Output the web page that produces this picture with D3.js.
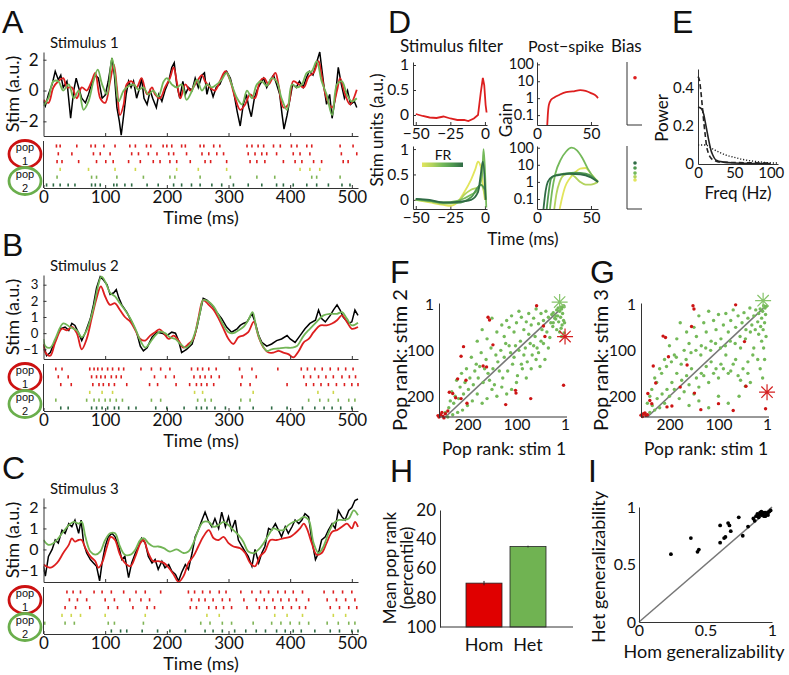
<!DOCTYPE html>
<html><head><meta charset="utf-8">
<script src="https://cdn.jsdelivr.net/npm/d3@7"></script>
<style>body{margin:0;background:#fff}</style>
</head><body>
<svg id="c" width="789" height="675" xmlns="http://www.w3.org/2000/svg"></svg>
<script>
// ---------------- DATA ----------------
const timeTicks = [0,100,200,300,400,500];
// Panel A stimulus traces [time ms, value]
const stim1Black = [[0,-0.7],[3,-1.0],[8,-0.25],[14,0.4],[19,1.25],[24,0.7],[28,1.0],[32,0.2],[38,0.6],[44,-1.8],[49,0],[53,0.8],[57,0.2],[62,-0.5],[68,-0.8],[73,-0.25],[78,0.4],[84,1.0],[89,0.8],[95,-0.5],[100,-0.3],[105,0.6],[111,2.1],[115,1.0],[119,-1.1],[123,-2],[126,-2.9],[130,-1.6],[134,-0.25],[138,0.6],[142,0.2],[146,0.6],[151,-0.5],[156,0.2],[159,0.8],[163,-0.5],[168,-0.9],[173,0],[177,-0.5],[183,-1.1],[187,-0.25],[192,-0.7],[197,0],[203,0.6],[208,1.5],[212,1.8],[216,0.4],[221,-0.5],[226,0.6],[230,-0.25],[235,0.2],[241,0],[246,0.8],[251,0.2],[257,1.0],[261,1.15],[265,-0.25],[269,0.4],[275,-0.4],[280,0.2],[286,0.4],[292,1.0],[297,1.25],[303,0.8],[308,0],[314,-1.35],[319,-2.3],[324,-0.9],[329,-0.25],[333,-1.1],[337,-1.7],[342,-0.5],[346,0],[351,0.4],[357,0.8],[362,0.2],[368,0.7],[373,1.0],[378,0.4],[383,-0.25],[387,-1.6],[390,-2.5],[395,-1.6],[399,-0.7],[404,0.4],[410,0.2],[415,0.6],[421,0.2],[426,0.8],[431,1.25],[437,1.0],[442,1.7],[448,2.5],[451,1.5],[455,0.2],[459,-0.9],[464,-0.25],[468,-1.8],[473,-0.5],[478,1.5],[483,0.4],[488,-0.5],[493,0],[498,-0.9],[504,-0.7],[508,-1.1]];
const stim1Red = [[0,-0.6],[8,-0.8],[16,0.2],[24,0.6],[32,0.8],[38,0.2],[46,0.2],[54,-0.5],[62,0.2],[70,0],[78,0.6],[84,1.15],[92,-0.5],[100,-0.8],[108,0.6],[114,1.7],[119,0.2],[124,-1.6],[130,-0.9],[135,0.4],[143,0.6],[151,0.2],[159,0.8],[168,-0.25],[176,0.2],[181,-0.25],[189,-0.5],[197,0.2],[205,0.8],[211,1.5],[216,0.6],[222,-0.5],[230,0.4],[238,0],[249,0.6],[257,1.0],[262,0.6],[270,0.2],[278,0],[286,0.6],[295,1.25],[303,0.6],[311,-0.5],[319,-1.25],[327,-0.9],[335,-0.25],[343,-0.5],[351,0.6],[358,0.8],[365,0.4],[376,1.15],[381,0.4],[389,-1.1],[397,-0.9],[405,0.6],[414,0.4],[422,0.2],[430,0.9],[438,1.15],[446,1.9],[451,1.0],[459,-0.5],[468,-1.1],[476,0],[481,0.8],[489,-0.25],[497,-0.9],[508,0.05]];
const stim1Green = [[0,-1.0],[8,-0.5],[16,0.6],[24,0.6],[32,0],[41,0.4],[49,-0.5],[57,0],[65,-1.25],[73,-0.7],[81,0.6],[88,1.35],[95,0.4],[103,-0.25],[111,2.1],[116,1.0],[122,-0.7],[130,0],[138,0.3],[146,0.4],[154,0.05],[162,0.2],[170,-0.25],[178,0],[186,-0.4],[195,0.6],[200,0.8],[208,0.4],[216,0.2],[224,0.4],[232,-0.6],[241,0],[249,0.7],[257,0],[265,0.4],[273,0.2],[281,0.4],[289,0.7],[297,1.15],[305,0.4],[314,-0.5],[322,-0.9],[330,0],[338,-0.5],[346,0.4],[354,0.6],[362,0.3],[370,0.8],[378,0.6],[386,-0.5],[395,-1.25],[403,0.4],[411,0.2],[419,0.4],[427,1.15],[435,1.25],[443,1.9],[451,0.6],[459,-0.25],[468,-1.6],[476,0.4],[484,0.6],[492,-0.25],[500,-0.7],[508,-0.5]];
// Panel B
const stim2Black = [[0,-0.7],[5,-1.4],[11,-1.2],[19,-0.46],[27,0.27],[35,0.38],[41,0.17],[46,0.6],[51,0.48],[57,0],[62,-0.46],[68,0.06],[76,0.9],[81,1.75],[86,2.8],[92,3.5],[97,3.3],[103,3.0],[108,2.4],[114,2.5],[118,2.7],[122,2.2],[127,1.75],[135,1.3],[143,0.7],[151,0.06],[157,-0.8],[162,-1.1],[168,-0.9],[176,-0.25],[184,0.06],[192,0],[200,-0.15],[208,0.06],[214,0],[219,-0.46],[224,-1.2],[232,-1.0],[241,-0.67],[249,0.38],[254,1.3],[259,2.15],[265,2.05],[273,1.75],[281,1.3],[289,0.9],[297,0.38],[305,0.06],[314,0.27],[319,0.48],[324,0.6],[330,0.7],[338,1.2],[343,0.7],[349,-0.15],[354,-0.57],[362,-0.8],[370,-0.67],[378,-0.46],[386,-0.36],[395,-0.15],[400,-0.36],[408,-0.57],[416,-0.15],[424,0.27],[432,0.6],[441,0.8],[446,1.43],[451,0.9],[457,0.7],[465,1.1],[470,1.43],[476,1.75],[481,1.43],[486,1.0],[495,0.6],[500,0.7],[505,1.43],[510,1.1]];
const stim2Red = [[0,-0.67],[3,-1.2],[11,-1.4],[19,-0.57],[30,0.27],[38,0.17],[46,0.38],[54,0],[62,-1.0],[70,-0.36],[78,0.9],[86,2.15],[93,2.9],[100,2.27],[108,1.75],[116,1.85],[124,1.43],[132,1.0],[141,0.7],[149,0.17],[157,-0.36],[165,-0.46],[173,-0.15],[181,0.06],[188,0.23],[195,0],[203,-0.36],[211,-0.15],[219,-0.46],[227,-0.9],[235,-0.67],[243,-0.36],[251,0.9],[259,2.05],[268,1.75],[276,1.43],[284,0.9],[292,0.27],[300,-0.36],[308,-0.67],[316,-0.25],[324,-0.15],[332,0.06],[341,0.7],[349,-0.25],[357,-0.9],[365,-1.2],[373,-1.2],[381,-1.1],[389,-1.2],[397,-1.3],[405,-1.5],[414,-1.1],[422,-0.57],[430,-0.36],[438,0.06],[449,0.48],[459,0.48],[468,0.6],[476,0.8],[484,1.1],[492,0.7],[500,0.27],[510,0.38]];
const stim2Green = [[0,-0.36],[3,-0.8],[11,-0.9],[19,-0.36],[32,0.6],[43,0.38],[54,0.17],[62,-0.25],[70,0.17],[81,1.54],[89,3.0],[94,3.5],[100,3.2],[108,2.5],[116,2.27],[124,1.85],[132,1.43],[141,0.9],[149,0.27],[157,-0.46],[165,-0.9],[173,-0.57],[181,-0.15],[189,0.1],[197,0],[205,-0.25],[214,-0.36],[222,-0.67],[230,-0.9],[238,-0.67],[246,0.06],[254,1.3],[259,2.05],[268,1.95],[276,1.64],[284,1.1],[292,0.48],[300,0.06],[308,0],[316,0.17],[324,0.38],[332,0.8],[339,1.3],[346,0.17],[354,-0.67],[362,-1.1],[370,-1.0],[381,-0.95],[392,-0.9],[403,-0.9],[411,-0.8],[422,-0.15],[432,0.27],[443,0.7],[454,1.1],[465,1.2],[476,1.2],[484,1.3],[492,0.9],[500,0.48],[510,0.65]];
// Panel C
const stim3Black = [[0,-0.8],[3,-1.27],[8,-0.33],[14,0],[19,0.45],[24,0.3],[30,0.92],[35,0.77],[41,1.23],[46,1.08],[51,1.4],[57,0.77],[61,1.4],[65,0.3],[70,-0.17],[76,-0.48],[81,-0.64],[86,-0.8],[91,-1.5],[95,-0.64],[100,0.14],[105,0.6],[111,0.77],[116,0.6],[122,0.14],[127,-0.48],[132,-0.33],[138,-1.34],[143,-0.64],[149,-0.17],[154,0.14],[159,0.53],[165,0.3],[170,-0.33],[176,-0.64],[181,-0.48],[186,-0.95],[192,-0.56],[197,-0.87],[203,-0.72],[208,-1.03],[214,-1.19],[219,-1.5],[224,-1.1],[230,-0.72],[235,-0.95],[241,-0.17],[246,0.6],[251,0.92],[257,1.4],[262,1.78],[268,1.31],[273,1.08],[278,1.47],[284,1.0],[289,1.78],[295,1.08],[300,1.55],[305,0.92],[311,1.4],[316,0.45],[322,0.14],[327,-0.1],[332,-0.33],[338,-0.8],[343,0],[349,-0.64],[354,-0.17],[359,0.14],[365,1.0],[370,0.92],[376,1.23],[381,0.92],[386,0.6],[392,1.08],[397,0.77],[403,1.08],[408,1.4],[414,1.23],[419,1.4],[424,1.7],[430,1.55],[435,0.45],[441,-0.48],[446,-0.17],[451,0.45],[457,0.6],[462,0.92],[468,1.23],[473,1.0],[478,1.86],[484,1.55],[489,1.4],[495,1.86],[500,2.0],[505,2.33],[510,2.4]];
const stim3Red = [[0,-0.72],[11,-0.87],[22,-0.64],[32,-0.17],[41,0.22],[46,0.53],[51,0.37],[57,0.45],[62,0.45],[68,0.06],[76,-0.33],[84,-0.56],[89,-0.87],[95,-0.64],[103,0.14],[109,0.6],[116,0.45],[124,-0.25],[132,-0.64],[141,-0.8],[149,-0.33],[157,0.3],[162,0.45],[170,-0.17],[178,-0.56],[186,-0.56],[195,-0.64],[203,-0.87],[211,-1.19],[219,-1.55],[227,-1.27],[235,-0.64],[243,-0.33],[251,0.14],[259,0.6],[268,0.92],[276,0.53],[284,0.45],[292,0.6],[300,0.3],[308,0.14],[319,0.06],[327,-0.17],[335,-0.64],[343,-0.8],[351,-0.33],[359,-0.1],[368,0.45],[378,0.45],[389,0.53],[400,0.6],[408,0.77],[416,1.0],[422,1.23],[427,1.0],[435,0.3],[443,-0.25],[451,-0.17],[459,0.3],[468,0.84],[476,0.92],[484,1.08],[492,1.23],[500,1.0],[505,1.31],[510,1.08]];
const stim3Green = [[0,0.45],[8,0.22],[16,0.3],[24,0.53],[32,0.84],[41,1.16],[49,1.31],[57,1.23],[62,1.31],[68,0.6],[76,-0.1],[84,-0.25],[92,-0.1],[100,0.45],[108,0.77],[116,0.77],[124,0.14],[132,-0.25],[141,-0.25],[149,0],[157,0.45],[163,0.53],[170,0.3],[178,0.14],[186,0.14],[195,0.06],[205,-0.1],[216,0],[227,-0.17],[235,-0.1],[243,0.3],[251,0.92],[259,1.31],[268,1.31],[276,1.08],[284,1.16],[292,1.31],[300,1.16],[308,0.92],[316,0.69],[324,0.37],[332,-0.1],[341,-0.17],[349,0],[357,0.3],[365,0.69],[373,1.0],[381,0.92],[389,0.92],[397,1.16],[405,1.31],[414,1.4],[422,1.55],[430,1.4],[438,0.3],[446,-0.17],[454,0.14],[462,0.77],[470,1.23],[478,1.4],[486,1.4],[495,1.47],[503,1.86],[510,1.63]];
// Spike rasters (ms): pop 1 rows, pop 2 rows (yellow, mid, dark)
const spikesA_pop1 = [
 [21,27,54,77,84,98,116,140,149,167,174,194,200,208,224,230,254,260,276,286,330,338,348,357,373,384,402,411,427,435,481,502],
 [24,46,81,92,108,143,154,170,184,203,211,232,257,268,281,292,332,343,354,362,378,405,416,432,483,508],
 [22,30,57,86,101,113,138,157,178,189,205,216,238,262,271,297,335,346,359,389,408,419,438,451,486,494]];
const spikesA_pop2 = [
 [27,73,116,149,216,251,297,416,432,448],
 [22,78,86,119,162,205,213,254,303,346,375,435,443,481],
 [5,16,27,40,51,78,84,92,114,119,132,143,168,186,211,224,240,254,273,289,308,332,354,378,389,405,427,443,462,484,497]];
const spikesB_pop1 = [
 [20,30,75,82,88,95,104,112,122,130,158,175,190,205,240,250,258,268,280,318,338,380,418,428,440,452,465,478,490,502],
 [24,40,78,86,93,100,110,118,126,180,198,212,244,254,262,272,285,322,345,422,433,446,458,470,484,496,506],
 [28,45,80,90,97,106,115,135,172,185,215,237,248,256,265,276,320,335,395,426,438,450,462,475,488,500,510]];
const spikesB_pop2 = [
 [75,95,112,245,258,340,445,470],
 [20,70,82,90,100,108,118,128,175,190,250,262,272,320,335,430,448,462,478,495,505],
 [28,40,78,86,95,104,115,122,138,150,182,200,228,248,256,265,278,295,318,340,370,395,420,440,455,468,482,500]];
const spikesC_pop1 = [
 [38,48,60,82,95,110,130,150,165,190,235,245,258,270,285,296,320,338,352,365,380,392,405,420,455,470,485,500],
 [42,55,70,100,115,140,158,172,240,252,262,275,290,302,325,345,358,372,385,398,410,430,460,475,490,505],
 [35,52,75,105,120,145,168,180,238,248,268,280,292,305,330,350,362,375,388,402,415,425,465,480,495,508]];
const spikesC_pop2 = [
 [30,45,60,100,165,265,285,375,395,420,470,490],
 [2,35,50,105,115,162,255,270,290,305,340,370,385,400,415,430,460,478,495,505],
 [110,125,135,160,185,205,230,262,275,290,310,328,345,360,378,392,405,418,440,465,480,500,510]];

// Panel D: stimulus filters [time ms, a.u.]
const filterHom = [[-50,0.02],[-45,-0.02],[-40,-0.05],[-35,-0.06],[-30,-0.03],[-25,-0.07],[-20,-0.1],[-15,-0.1],[-12,-0.12],[-8,-0.07],[-5,0.0],[-3,0.45],[-1.5,0.74],[-0.5,0.6],[0.5,0.2],[1.2,0.05]];
const filterHet = [
 [[-50,0],[-40,-0.05],[-30,-0.1],[-25,-0.12],[-20,-0.05],[-15,0.15],[-10,0.4],[-7,0.6],[-5,0.75],[-3,0.65],[-1,0.2],[0,0.0]],
 [[-50,0],[-40,-0.03],[-30,-0.08],[-20,-0.05],[-15,0.1],[-10,0.2],[-5,0.25],[-3,0.3],[-1,0.2],[0,0.1],[1,0]],
 [[-50,0],[-40,-0.02],[-30,-0.05],[-20,-0.02],[-10,0.1],[-5,0.2],[-2,0.5],[-1,1.0],[0,0.6],[1,-0.15]],
 [[-50,0.02],[-40,-0.02],[-30,-0.06],[-20,-0.06],[-10,0.05],[-5,0.25],[-3,0.3],[-1,0.25],[0,0.2]],
 [[-50,0.02],[-40,0],[-30,-0.05],[-20,-0.04],[-10,0.0],[-5,0.15],[-3,0.5],[-1.5,0.75],[0,0.3],[0.5,0]]];
const hetColors = ["#e2e55c","#b3d35e","#74b95a","#4f9850","#2f6b45"];
// Post-spike gain [time ms, gain]
const postHom = [[9.5,0.026],[10,0.1],[11,0.4],[13,0.8],[16,1.1],[20,1.5],[27,2.3],[33,2.5],[40,3.0],[45,2.7],[50,2.0],[55,1.3],[56.5,1.0]];
const postHet = [
 [[21,0.026],[23,0.1],[26,0.5],[30,1.5],[35,3.5],[40,6],[45,6.5],[50,3],[54,1.5],[56.5,1.1]],
 [[16,0.026],[18,0.2],[21,1],[25,2.5],[30,3],[35,2],[40,1],[45,0.7],[50,0.7],[56.5,1]],
 [[12,0.026],[14,0.3],[17,3],[22,20],[27,60],[32,100],[37,70],[42,25],[47,6],[52,2],[56.5,1]],
 [[9,0.026],[11,0.3],[13,1.5],[17,2.5],[25,3],[35,3.5],[45,3],[52,1.8],[56.5,1]],
 [[6,0.026],[8,0.3],[10,1],[14,2],[20,2.5],[30,3],[40,2.8],[50,1.8],[56.5,1]]];
const biasHom = [0.75];
const biasHet = [0.46,0.51,0.57,0.65,0.73];
// Panel E power spectra [Hz, power]
const powerSolid = [[0,0.3],[5,0.29],[8,0.26],[10,0.22],[13,0.16],[15,0.12],[18,0.07],[20,0.05],[25,0.02],[35,0.01],[50,0.005],[100,0.002]];
const powerDashed = [[0,0.46],[2,0.44],[4,0.38],[6,0.3],[8,0.22],[10,0.15],[12,0.09],[14,0.06],[18,0.03],[22,0.02],[30,0.01],[100,0.005]];
const powerDotted = [[0,0.1],[10,0.1],[20,0.08],[30,0.06],[40,0.045],[50,0.035],[60,0.025],[70,0.018],[80,0.013],[90,0.009],[100,0.006],[110,0.005]];
// Panel F / G: population ranks [rank stim 1, rank stim k]
const rankF_het = [[3,5],[5,3],[8,10],[10,6],[12,15],[6,20],[15,8],[18,12],[20,25],[4,35],[7,45],[9,52],[14,38],[22,30],[25,18],[28,22],[30,40],[12,60],[18,55],[26,48],[35,28],[40,15],[45,35],[50,20],[55,42],[60,10],[38,60],[32,72],[48,55],[65,30],[70,45],[75,20],[80,38],[85,55],[90,28],[95,15],[100,40],[105,60],[110,25],[115,50],[120,35],[125,70],[130,45],[140,60],[150,30],[160,75],[170,55],[180,80],[62,70],[72,85],[82,95],[92,80],[102,90],[112,105],[122,85],[132,100],[142,110],[152,95],[162,120],[172,105],[182,130],[192,115],[202,140],[212,150],[222,165],[232,190],[50,80],[58,95],[68,110],[78,125],[88,140],[98,155],[108,130],[118,145],[128,160],[138,125],[148,140],[158,150],[168,170],[178,160],[188,175],[198,185],[208,195],[218,205],[228,215],[238,225],[245,235],[60,120],[70,140],[80,160],[90,130],[100,170],[110,185],[120,195],[130,180],[140,200],[150,185],[160,205],[170,215],[180,195],[190,210],[200,220],[210,230],[220,235],[230,240],[240,245],[205,170],[215,180],[225,200],[235,210],[195,160],[185,145],[175,135],[165,140],[155,165],[145,175],[135,145],[125,115],[115,90],[105,115],[95,100],[85,110],[75,65],[65,90],[55,105],[45,85],[35,95],[42,120],[52,135],[25,40],[20,32],[16,25],[10,28],[2,40],[8,70],[3,62]];
const rankF_hom = [[59,3],[158,28],[155,34],[42,70],[45,47],[208,92],[213,113],[148,88],[168,134],[161,136],[220,162],[203,165],[237,191],[230,194],[213,205],[201,215],[224,203],[102,187],[101,193],[122,218],[71,205],[4,176],[258,245],[255,240],[250,243],[245,238],[252,235],[260,242],[248,247],[240,232]];
const rankG_het = [[2,4],[5,8],[8,3],[10,15],[4,22],[12,30],[15,10],[18,20],[6,40],[9,55],[3,70],[14,48],[20,38],[24,12],[28,25],[32,45],[36,8],[40,30],[44,55],[48,18],[52,40],[56,70],[60,25],[65,50],[70,12],[75,35],[80,60],[85,20],[90,45],[95,75],[100,22],[105,55],[110,35],[115,80],[120,15],[125,60],[130,40],[135,90],[140,25],[145,70],[150,50],[160,85],[165,60],[170,100],[178,40],[185,75],[190,110],[200,90],[210,120],[220,140],[230,160],[240,200],[245,215],[236,185],[226,170],[216,150],[206,135],[196,125],[186,115],[176,130],[166,120],[156,105],[146,100],[136,110],[126,95],[116,100],[106,85],[96,95],[86,90],[76,80],[66,85],[55,95],[45,75],[35,60],[25,55],[18,65],[12,80],[8,95],[30,110],[40,125],[50,140],[60,155],[70,130],[80,150],[90,140],[100,160],[110,150],[120,170],[130,155],[140,180],[150,195],[160,175],[170,190],[180,205],[190,185],[200,200],[210,215],[220,225],[230,230],[240,235],[248,240],[35,170],[45,178],[55,165],[40,150],[65,120],[75,145],[95,130],[105,140],[125,135],[135,150],[145,160],[155,140],[165,155],[175,165],[185,150],[195,170],[205,185],[215,195],[225,205],[235,220],[115,125],[85,110],[100,200],[140,210],[160,220],[20,120],[15,140],[28,95],[6,120],[10,160],[58,200],[80,215],[120,225]];
const rankG_hom = [[152,3],[150,10],[213,69],[208,72],[155,48],[202,114],[164,132],[233,134],[228,171],[178,180],[149,193],[100,216],[136,229],[70,231],[44,178],[4,227],[47,81],[65,1],[244,194],[240,209],[236,216],[205,223],[195,221],[253,238],[248,242],[255,244],[245,240],[250,236],[258,241]];
const starF = {het:[12,-5], hom:[1,70]};
const starG = {het:[9,-8], hom:[1,191]};
const rankTicks = [200,100,1];
// Panel H
const barCats = ["Hom","Het"];
const barMeans = [70,45];
const barErr = [1.5,0.6];
// Panel I generalizability [hom, het]
const genPts = [[0.24,0.59],[0.39,0.73],[0.44,0.61],[0.45,0.63],[0.61,0.84],[0.61,0.69],[0.64,0.73],[0.65,0.74],[0.67,0.86],[0.68,0.84],[0.69,0.79],[0.75,0.91],[0.78,0.75],[0.82,0.83],[0.86,0.9],[0.87,0.88],[0.88,0.92],[0.89,0.94],[0.9,0.93],[0.9,0.91],[0.91,0.95],[0.92,0.93],[0.92,0.96],[0.93,0.94],[0.94,0.95],[0.94,0.92],[0.95,0.92],[0.95,0.95],[0.96,0.94],[0.97,0.95],[0.97,0.93],[0.98,0.96],[0.99,0.97]];

// ---------------- DRAWING ----------------
const FONT = "Lato, 'Open Sans', sans-serif";
const LETTER = "'Liberation Sans', Arial, sans-serif";
const RED = "#dd1f1f", GREEN = "#72b556", AX = "#333";
const popColors = ["#dd1f1f","#dd1f1f","#dd1f1f","#cfd84c","#7fb455","#2f6b45"];
const svg = d3.select("#c");

function styleAxis(g, fs){
  g.selectAll("text").attr("font-family",FONT).attr("font-size",fs).attr("fill","#111");
  g.selectAll("path,line").attr("stroke",AX).attr("stroke-width",1);
}
function txt(x,y,s,fs,opts={}){
  const t = svg.append("text").attr("x",x).attr("y",y).text(s)
    .attr("font-family",opts.family||FONT).attr("font-size",fs).attr("fill","#111")
    .attr("text-anchor",opts.anchor||"start");
  if(opts.rotate) t.attr("transform",`rotate(-90,${x},${y})`);
  return t;
}
const fmt = d => (d<0?"\u2212":"")+Math.abs(d);

// ---- Panels A, B, C ----
const stimPanels = [
  {dy:0, letter:"A", title:"Stimulus 1", dom:[-2.95,2.5], ticks:[-2,0,2], fs:17, data:[stim1Black,stim1Red,stim1Green], sp:[spikesA_pop1,spikesA_pop2]},
  {dy:223, letter:"B", title:"Stimulus 2", dom:[-1.6,3.6], ticks:[-1,0,1,2,3], fs:13.2, data:[stim2Black,stim2Red,stim2Green], sp:[spikesB_pop1,spikesB_pop2]},
  {dy:446, letter:"C", title:"Stimulus 3", dom:[-1.55,2.45], ticks:[-1,0,1,2], fs:16, data:[stim3Black,stim3Red,stim3Green], sp:[spikesC_pop1,spikesC_pop2]}
];
stimPanels.forEach((p,i)=>{
  const dy = p.dy;
  const x = d3.scaleLinear().domain([0,510]).range([43.5,358]);
  const y = d3.scaleLinear().domain(p.dom).range([136+dy,52+dy]);
  txt(2,33+dy,p.letter,32,{family:LETTER});
  txt(50,48+dy,p.title,15);
  const clipId = "clip"+i;
  svg.append("clipPath").attr("id",clipId).append("rect").attr("x",43.5).attr("y",44+dy).attr("width",316).attr("height",93);
  const gl = svg.append("g").attr("clip-path",`url(#${clipId})`);
  const line = d3.line().x(d=>x(d[0])).y(d=>y(d[1]));
  const smooth = d3.line().x(d=>x(d[0])).y(d=>y(d[1])).curve(d3.curveCatmullRom.alpha(0.5));
  gl.append("path").datum(p.data[0]).attr("d",line).attr("fill","none").attr("stroke","#000").attr("stroke-width",1.5);
  gl.append("path").datum(p.data[1]).attr("d",smooth).attr("fill","none").attr("stroke",RED).attr("stroke-width",1.8);
  gl.append("path").datum(p.data[2]).attr("d",smooth).attr("fill","none").attr("stroke",GREEN).attr("stroke-width",1.8);
  // stim axes
  const ga = svg.append("g").attr("transform",`translate(0,${136+dy})`)
    .call(d3.axisBottom(x).tickValues([100,200,300,400,500]).tickSize(-3).tickSizeOuter(0).tickFormat(""));
  styleAxis(ga,16);
  const gy = svg.append("g").attr("transform",`translate(43.5,0)`)
    .call(d3.axisLeft(y).tickValues(p.ticks).tickSize(-3).tickSizeOuter(0).tickPadding(5).tickFormat(fmt));
  styleAxis(gy,p.fs);
  txt(19,94+dy,"Stim (a.u.)",18,{anchor:"middle",rotate:true});
  // raster
  const rows = ["r1","r2","r3","g1","g2","g3"];
  const ry = d3.scalePoint().domain(rows).range([146+dy,185+dy]);
  const spikes = [];
  p.sp[0].forEach((r,k)=>r.forEach(t=>spikes.push({t,row:rows[k],c:popColors[k]})));
  p.sp[1].forEach((r,k)=>r.forEach(t=>spikes.push({t,row:rows[k+3],c:popColors[k+3]})));
  svg.append("g").selectAll("line").data(spikes).join("line")
    .attr("x1",d=>x(d.t)).attr("x2",d=>x(d.t))
    .attr("y1",d=>ry(d.row)-1.6).attr("y2",d=>ry(d.row)+1.6)
    .attr("stroke",d=>d.c).attr("stroke-width",1.6);
  const gr = svg.append("g").attr("transform",`translate(0,${188+dy})`)
    .call(d3.axisBottom(x).tickValues(timeTicks).tickSize(-3).tickSizeOuter(0).tickPadding(3));
  styleAxis(gr,17);
  svg.append("line").attr("x1",43.5).attr("x2",43.5).attr("y1",141+dy).attr("y2",188+dy).attr("stroke",AX);
  txt(201,224+dy,"Time (ms)",18,{anchor:"middle"});
  // pop circles
  svg.append("ellipse").attr("cx",25).attr("cy",154+dy).attr("rx",16).attr("ry",13.5).attr("fill","none").attr("stroke","#cc1111").attr("stroke-width",2.8);
  svg.append("ellipse").attr("cx",25).attr("cy",181+dy).attr("rx",16).attr("ry",13.5).attr("fill","none").attr("stroke","#6aae4c").attr("stroke-width",2.8);
  txt(25,151+dy,"pop",11,{anchor:"middle",family:LETTER});
  txt(25,165+dy,"1",11,{anchor:"middle",family:LETTER});
  txt(25,178+dy,"pop",11,{anchor:"middle",family:LETTER});
  txt(25,192+dy,"2",11,{anchor:"middle",family:LETTER});
});

// ---- Panel D ----
txt(388,33,"D",32,{family:LETTER});
txt(400,52,"Stimulus filter",17);
txt(528,52,"Post\u2212spike",16);
txt(611,52,"Bias",17);
const xF = d3.scaleLinear().domain([-52,1.5]).range([413,487]);
const yF1 = d3.scaleLinear().domain([-0.2,1.06]).range([125,62]);
const yF2 = d3.scaleLinear().domain([-0.18,1.06]).range([209,146]);
const xP = d3.scaleLinear().domain([0,56.5]).range([537,598]);
const yP1 = d3.scaleLog().domain([0.026,137]).range([125,62]);
const yP2 = d3.scaleLog().domain([0.026,126]).range([209,146]);
const yB1 = d3.scaleLinear().domain([0,1]).range([125,62]);
const yB2 = d3.scaleLinear().domain([0,1]).range([209,146]);
const fmtF = d => d===0.5?"0.5":String(d);
[[yF1,125],[yF2,209]].forEach(([ys,b])=>{
  const g1 = svg.append("g").attr("transform",`translate(413,0)`).call(d3.axisLeft(ys).tickValues([0,0.5,1]).tickSize(-3).tickSizeOuter(0).tickPadding(4).tickFormat(fmtF));
  styleAxis(g1,15.5);
  const g2 = svg.append("g").attr("transform",`translate(0,${b})`).call(d3.axisBottom(xF).tickValues([-50,-25,0]).tickSize(-3).tickSizeOuter(0).tickPadding(3).tickFormat(fmt));
  styleAxis(g2,15.5);
});
[[yP1,125],[yP2,209]].forEach(([ys,b])=>{
  const g1 = svg.append("g").attr("transform",`translate(537,0)`).call(d3.axisLeft(ys).tickValues([0.1,1,10,100]).tickSize(-3).tickSizeOuter(0).tickPadding(3).tickFormat(d=>String(d)));
  styleAxis(g1,14.5);
  const g2 = svg.append("g").attr("transform",`translate(0,${b})`).call(d3.axisBottom(xP).tickValues([0,50]).tickSize(-3).tickSizeOuter(0).tickPadding(3));
  styleAxis(g2,15.5);
});
[[62,125],[146,209]].forEach(([t,b])=>{
  svg.append("path").attr("d",`M627,${t}V${b}H642`).attr("fill","none").attr("stroke",AX);
});
const lF1 = d3.line().x(d=>xF(d[0])).y(d=>yF1(d[1]));
const lF2 = d3.line().x(d=>xF(d[0])).y(d=>yF2(d[1])).curve(d3.curveMonotoneX);
const lP1 = d3.line().x(d=>xP(d[0])).y(d=>yP1(d[1])).curve(d3.curveMonotoneX);
const lP2 = d3.line().x(d=>xP(d[0])).y(d=>yP2(d[1])).curve(d3.curveMonotoneX);
svg.append("path").datum(filterHom).attr("d",lF1).attr("fill","none").attr("stroke",RED).attr("stroke-width",1.8);
filterHet.forEach((f,k)=>svg.append("path").datum(f).attr("d",lF2).attr("fill","none").attr("stroke",hetColors[k]).attr("stroke-width",1.8));
svg.append("path").datum(postHom).attr("d",lP1).attr("fill","none").attr("stroke",RED).attr("stroke-width",1.8);
postHet.forEach((f,k)=>svg.append("path").datum(f).attr("d",lP2).attr("fill","none").attr("stroke",hetColors[k]).attr("stroke-width",1.8));
svg.selectAll("circle.bh").data(biasHom).join("circle").attr("class","bh").attr("cx",635).attr("cy",d=>yB1(d)).attr("r",1.8).attr("fill",RED);
svg.selectAll("circle.bt").data(biasHet).join("circle").attr("class","bt").attr("cx",635).attr("cy",d=>yB2(d)).attr("r",1.8).attr("fill",(d,k)=>hetColors[k]);
// FR colorbar
const grad = svg.append("defs").append("linearGradient").attr("id","frg");
hetColors.forEach((c,k)=>grad.append("stop").attr("offset",k/(hetColors.length-1)).attr("stop-color",c));
svg.append("rect").attr("x",422).attr("y",162.5).attr("width",41).attr("height",4.5).attr("fill","url(#frg)");
txt(443,160,"FR",14,{anchor:"middle"});
txt(383,130,"Stim units (a.u.)",17,{anchor:"middle",rotate:true});
txt(512,120,"Gain",17,{anchor:"middle",rotate:true});
txt(523,245,"Time (ms)",17,{anchor:"middle"});

// ---- Panel E ----
txt(672,33,"E",32,{family:LETTER});
const xE = d3.scaleLinear().domain([0,110]).range([698,778]);
const yE = d3.scaleLinear().domain([0,0.5]).range([164,69]);
const gE1 = svg.append("g").attr("transform","translate(698,0)").call(d3.axisLeft(yE).tickValues([0,0.2,0.4]).tickSize(0).tickPadding(4).tickFormat(d=>d===0?"0":d3.format(".1f")(d)));
styleAxis(gE1,15);
const gE2 = svg.append("g").attr("transform","translate(0,164)").call(d3.axisBottom(xE).tickValues([0,50,100]).tickSize(0).tickPadding(3));
styleAxis(gE2,15);
const lE = d3.line().x(d=>xE(d[0])).y(d=>yE(d[1])).curve(d3.curveMonotoneX);
svg.append("path").datum(powerSolid).attr("d",lE).attr("fill","none").attr("stroke","#222").attr("stroke-width",1.6);
svg.append("path").datum(powerDashed).attr("d",lE).attr("fill","none").attr("stroke","#222").attr("stroke-width",1.6).attr("stroke-dasharray","5,3");
svg.append("path").datum(powerDotted).attr("d",lE).attr("fill","none").attr("stroke","#222").attr("stroke-width",1.4).attr("stroke-dasharray","1.2,1.8");
txt(668,118,"Power",17,{anchor:"middle",rotate:true});
txt(738,199,"Freq (Hz)",17,{anchor:"middle"});

// ---- Panels F, G ----
function starPath(cx,cy,r){
  let d="";
  for(let k=0;k<4;k++){const a=k*Math.PI/4;d+=`M${cx-r*Math.cos(a)},${cy-r*Math.sin(a)}L${cx+r*Math.cos(a)},${cy+r*Math.sin(a)}`;}
  return d;
}
[{left:439,letter:"F",lx:390,het:rankF_het,hom:rankF_hom,star:starF,ylab:"Pop rank: stim 2",ylx:407},
 {left:641,letter:"G",lx:590,het:rankG_het,hom:rankG_hom,star:starG,ylab:"Pop rank: stim 3",ylx:608}].forEach(p=>{
  const x = d3.scaleLinear().domain([258,-3]).range([p.left,p.left+128]);
  const y = d3.scaleLinear().domain([-3,245]).range([303,417]);
  txt(p.lx,283,p.letter,32,{family:LETTER});
  svg.append("line").attr("x1",x(245)).attr("y1",y(245)).attr("x2",x(1)).attr("y2",y(1)).attr("stroke","#777").attr("stroke-width",1.6);
  svg.append("g").selectAll("circle").data(p.het).join("circle").attr("cx",d=>x(d[0])).attr("cy",d=>y(d[1])).attr("r",1.7).attr("fill","#74b959");
  svg.append("g").selectAll("circle").data(p.hom).join("circle").attr("cx",d=>x(d[0])).attr("cy",d=>y(d[1])).attr("r",1.7).attr("fill","#cc1414");
  svg.append("path").attr("d",starPath(x(p.star.het[0]),y(p.star.het[1]),8)).attr("stroke","#86c46a").attr("stroke-width",1.2);
  svg.append("path").attr("d",starPath(x(p.star.hom[0]),y(p.star.hom[1]),8)).attr("stroke","#d42020").attr("stroke-width",1.2);
  const gx = svg.append("g").attr("transform","translate(0,417)").call(d3.axisBottom(x).tickValues(rankTicks).tickSize(0).tickPadding(2).tickSizeOuter(0));
  styleAxis(gx,15.5); gx.select(".domain").attr("stroke","none");
  const gy = svg.append("g").attr("transform",`translate(${p.left},0)`).call(d3.axisLeft(y).tickValues(rankTicks).tickSize(0).tickPadding(5).tickSizeOuter(0));
  styleAxis(gy,15.5);
  svg.append("line").attr("x1",p.left).attr("x2",p.left+128).attr("y1",417).attr("y2",417).attr("stroke",AX);
  txt(p.ylx,360,p.ylab,20,{anchor:"middle",rotate:true});
  txt(p.left+65,455,"Pop rank: stim 1",17.5,{anchor:"middle"});
});

// ---- Panel H ----
txt(390,482,"H",32,{family:LETTER});
const yH = d3.scaleLinear().domain([20,100]).range([510,627]);
const xH = d3.scalePoint().domain(barCats).range([484,528]);
svg.append("g").selectAll("rect").data(barCats).join("rect")
  .attr("x",d=>xH(d)-18).attr("width",36)
  .attr("y",(d,k)=>yH(barMeans[k])).attr("height",(d,k)=>yH(100)-yH(barMeans[k]))
  .attr("fill",(d,k)=>k?"#70b352":"#e00000").attr("stroke","#222").attr("stroke-width",0.8);
svg.append("g").selectAll("line").data(barCats).join("line")
  .attr("x1",d=>xH(d)).attr("x2",d=>xH(d))
  .attr("y1",(d,k)=>yH(barMeans[k]-barErr[k])).attr("y2",(d,k)=>yH(barMeans[k]+barErr[k]))
  .attr("stroke","#222").attr("stroke-width",1);
const gH = svg.append("g").attr("transform","translate(440,0)").call(d3.axisLeft(yH).tickValues([20,40,60,80,100]).tickSize(0).tickPadding(4).tickSizeOuter(0));
styleAxis(gH,17);
svg.append("line").attr("x1",440).attr("x2",573).attr("y1",627).attr("y2",627).attr("stroke",AX);
barCats.forEach(c=>txt(xH(c),651,c,18,{anchor:"middle"}));
txt(396,568,"Mean pop rank",17,{anchor:"middle",rotate:true});
txt(413,568,"(percentile)",17,{anchor:"middle",rotate:true});

// ---- Panel I ----
txt(588,482,"I",32,{family:LETTER});
const xI = d3.scaleLinear().domain([0,1]).range([639,772]);
const yI = d3.scaleLinear().domain([0,1]).range([622,507]);
svg.append("line").attr("x1",xI(0)).attr("y1",yI(0)).attr("x2",xI(1)).attr("y2",yI(1)).attr("stroke","#777").attr("stroke-width",1.5);
svg.append("g").selectAll("circle").data(genPts).join("circle").attr("cx",d=>xI(d[0])).attr("cy",d=>yI(d[1])).attr("r",1.9).attr("fill","#000");
const gI1 = svg.append("g").attr("transform","translate(639,0)").call(d3.axisLeft(yI).tickValues([0,0.5,1]).tickSize(0).tickPadding(3).tickSizeOuter(0).tickFormat(fmtF));
styleAxis(gI1,16);
const gI2 = svg.append("g").attr("transform","translate(0,622)").call(d3.axisBottom(xI).tickValues([0,0.5,1]).tickSize(0).tickPadding(3).tickSizeOuter(0).tickFormat(fmtF));
styleAxis(gI2,16);
txt(605,567,"Het generalizability",18,{anchor:"middle",rotate:true});
txt(704,658,"Hom generalizability",18,{anchor:"middle"});
</script>
</body></html>
